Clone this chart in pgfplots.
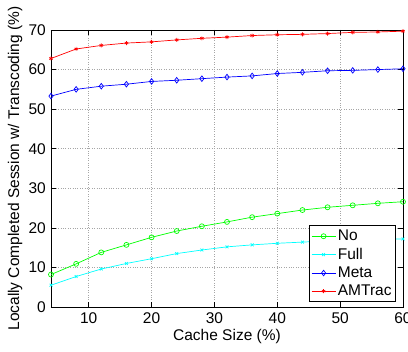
\documentclass[border=0pt]{standalone}
\usepackage{pgfplots}
\pgfplotsset{compat=1.18}
\usepackage{fontspec}
\setmainfont{Liberation Sans}
\definecolor{mgreen}{rgb}{0,1,0}
\definecolor{mcyan}{rgb}{0,1,1}
\definecolor{mblue}{rgb}{0,0,1}
\definecolor{mred}{rgb}{1,0,0}
\begin{document}
\fontsize{15}{18}\selectfont
\begin{tikzpicture}
\begin{axis}[
  scale only axis,
  width=352pt, height=277pt,
  xmin=4, xmax=60, ymin=0, ymax=70,
  xtick={10,20,30,40,50,60},
  ytick={0,10,20,30,40,50,60,70},
  tick align=inside,
  major tick length=5pt,
  xtick pos=both, ytick pos=both,
  grid=major,
  major grid style={dotted, gray!70, line width=0.6pt},
  axis line style={line width=0.8pt},
  every tick/.style={black, line width=0.6pt},
  /pgf/number format/assume math mode=true,
  ticklabel style={font=\fontsize{15.5}{18}\selectfont},
  label style={font=\fontsize{15.5}{18}\selectfont},
  xlabel={Cache Size (\%)},
  ylabel={Locally Completed Session w/ Transcoding (\%)},
  xlabel style={yshift=4pt},
  ylabel style={yshift=-4pt},
  legend style={at={(0.98,0.018)}, anchor=south east, font=\fontsize{15.5}{17}\selectfont,
    draw=black, line width=0.8pt, inner xsep=2pt, inner ysep=2pt, row sep=1.2pt, cells={anchor=west}},
  legend image code/.code={\draw[mark repeat=2,mark phase=2,#1] plot coordinates {(0cm,0cm)(0.42cm,0cm)(0.84cm,0cm)};},
]
\addplot[mgreen, line width=0.7pt, mark=o, mark size=2.5pt, mark options={solid}] coordinates {
(4,8.2)(8,10.9)(12,13.8)(16,15.7)(20,17.6)(24,19.2)(28,20.4)(32,21.5)(36,22.7)(40,23.6)(44,24.5)(48,25.2)(52,25.7)(56,26.2)(60,26.6)};
\addlegendentry{No}
\addplot[mcyan, line width=0.7pt, mark=x, mark size=2pt] coordinates {
(4,5.5)(8,7.7)(12,9.6)(16,11.0)(20,12.2)(24,13.5)(28,14.4)(32,15.2)(36,15.7)(40,16.1)(44,16.4)(48,16.7)(52,16.9)(56,17.1)(60,17.2)};
\addlegendentry{Full}
\addplot[mblue, line width=0.7pt, mark=diamond, mark size=2.8pt] coordinates {
(4,53.3)(8,55.0)(12,55.8)(16,56.3)(20,57.0)(24,57.3)(28,57.7)(32,58.1)(36,58.4)(40,59.0)(44,59.3)(48,59.7)(52,59.8)(56,60.0)(60,60.2)};
\addlegendentry{Meta}
\addplot[mred, line width=0.7pt, mark=asterisk, mark size=2pt] coordinates {
(4,62.8)(8,65.2)(12,66.1)(16,66.7)(20,67.0)(24,67.5)(28,67.9)(32,68.2)(36,68.6)(40,68.8)(44,68.9)(48,69.1)(52,69.4)(56,69.5)(60,69.7)};
\addlegendentry{AMTrac}
\end{axis}
\pgfresetboundingbox
\path (current axis.south west) ++(-51pt,-45pt) rectangle ++(408pt,352pt);
\end{tikzpicture}
\end{document}
